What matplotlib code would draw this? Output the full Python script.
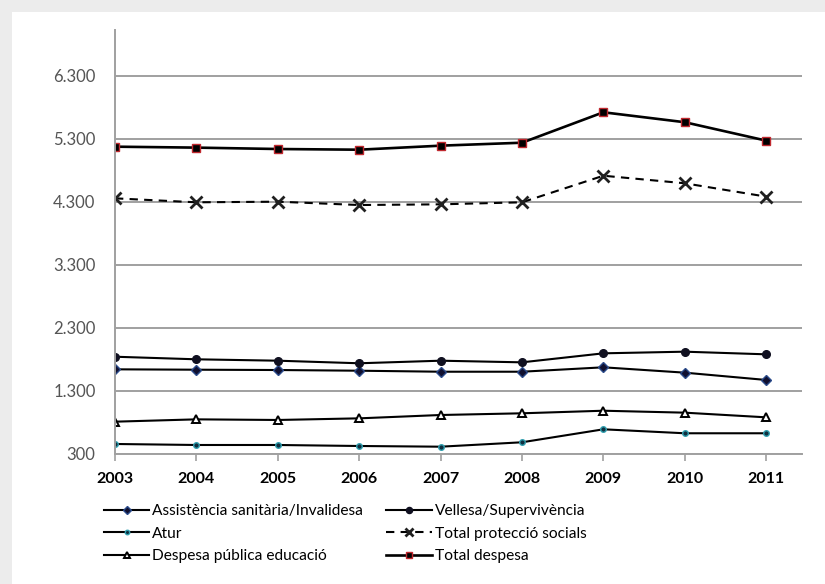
import matplotlib.pyplot as plt
from matplotlib.patches import Rectangle
from matplotlib.ticker import FuncFormatter

plt.rcParams['font.family'] = ['Lato', 'DejaVu Sans']

years = [2003, 2004, 2005, 2006, 2007, 2008, 2009, 2010, 2011]

assistencia = [1644, 1638, 1633, 1622, 1606, 1606, 1676, 1591, 1475]
vellesa = [1844, 1803, 1781, 1740, 1781, 1755, 1898, 1924, 1882]
atur = [459, 443, 443, 427, 416, 486, 692, 629, 629]
total_proteccio = [4358, 4295, 4305, 4252, 4263, 4295, 4717, 4597, 4385]
educacio = [813, 850, 840, 866, 919, 946, 987, 956, 882]
total_despesa = [5178, 5163, 5141, 5130, 5194, 5241, 5724, 5566, 5274]

y_ticks = [300, 1300, 2300, 3300, 4300, 5300, 6300]

fig = plt.figure(figsize=(8.25, 5.84), dpi=100, facecolor='#ececec')
fig.patches.append(Rectangle((12 / 825, 0), 1, 1 - 12 / 584, transform=fig.transFigure,
                             facecolor='white', edgecolor='none', zorder=-5))

ax = fig.add_axes([115 / 825, 1 - 454 / 584, (802 - 115) / 825, (454 - 30) / 584])
ax.set_facecolor('none')

lw = 1.5
ax.plot(years, assistencia, color='black', lw=lw, marker='D', ms=5,
        mfc='#101030', mec='#2a4a8a', label='Assistència sanitària/Invalidesa')
ax.plot(years, vellesa, color='black', lw=lw, marker='o', ms=5.5,
        mfc='#101020', mec='#101020', label='Vellesa/Supervivència')
ax.plot(years, atur, color='black', lw=lw, marker='o', ms=4,
        mfc='#103040', mec='#30a0b0', label='Atur')
ax.plot(years, total_proteccio, color='black', lw=lw, ls=(0, (4, 3)), marker='x', ms=8,
        mew=2.0, mec='#202020', label='Total protecció socials')
ax.plot(years, educacio, color='black', lw=lw, marker='^', ms=5.5,
        mfc='white', mec='black', mew=1.4, label='Despesa pública educació')
ax.plot(years, total_despesa, color='black', lw=1.9, marker='s', ms=6,
        mfc='black', mec='#c0282e', mew=1.0, label='Total despesa')

ax.set_xlim(2003, 2011.44)
ax.set_ylim(300, 7030)
ax.set_xticks(years)
ax.set_yticks(y_ticks)
ax.yaxis.set_major_formatter(FuncFormatter(lambda v, p: f'{int(v):,}'.replace(',', '.')))
ax.grid(axis='y', color='#a0a0a0', lw=1.4)
ax.set_axisbelow(True)

for side in ['top', 'right']:
    ax.spines[side].set_visible(False)
for side in ['left', 'bottom']:
    ax.spines[side].set_color('#a0a0a0')
    ax.spines[side].set_linewidth(1.4)

ax.tick_params(axis='y', length=0, pad=14, labelsize=12, labelcolor='#555555')
ax.tick_params(axis='x', length=5, color='#a0a0a0', width=1.2, pad=8, labelsize=11.5)
for lbl in ax.get_xticklabels():
    lbl.set_fontweight('bold')

handles, labels = ax.get_legend_handles_labels()
order = [0, 2, 4, 1, 3, 5]
fig.legend([handles[i] for i in order], [labels[i] for i in order], ncol=2,
           loc='upper left', bbox_to_anchor=(90 / 825, 1 - 490 / 584), frameon=False,
           fontsize=11.2, handlelength=2.9, handletextpad=0.2, columnspacing=1.5,
           labelspacing=0.55, markerscale=0.8)

fig.savefig('out.png', dpi=100, facecolor=fig.get_facecolor())
